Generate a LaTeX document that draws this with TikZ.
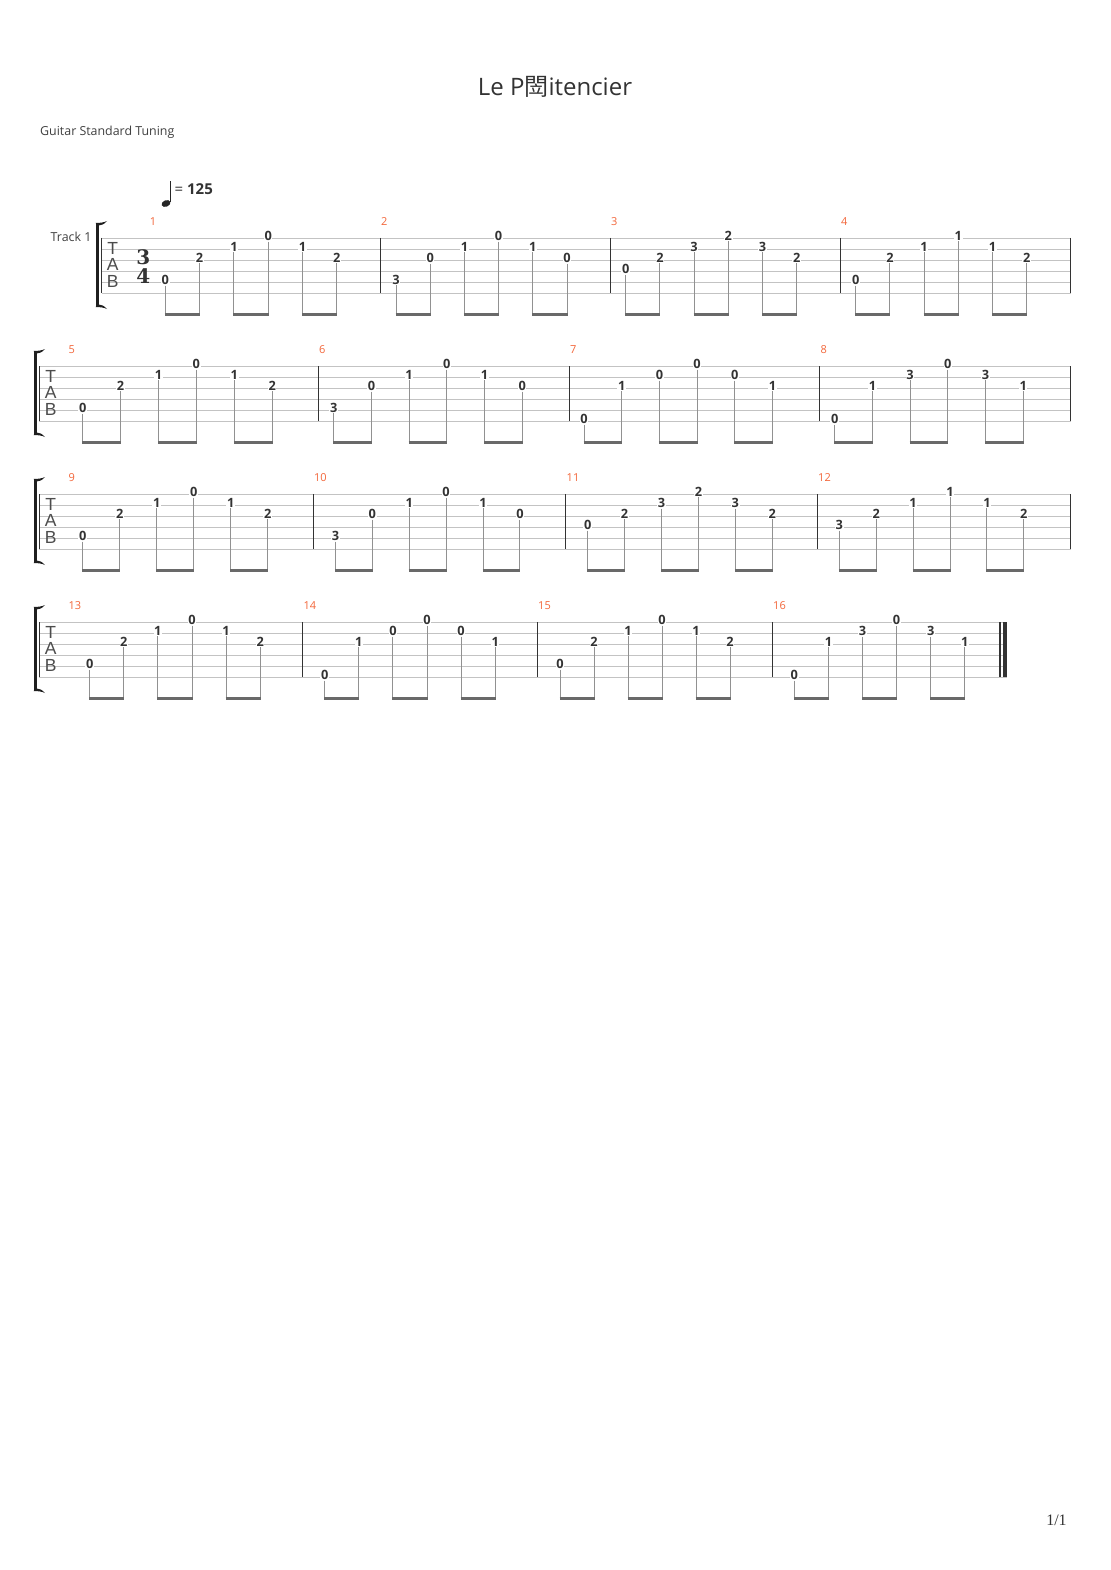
\documentclass[tikz,border=0pt]{standalone}
\usepackage{fontspec}
\setmainfont{Open Sans}
\newfontfamily\cjk{Noto Sans CJK SC}
\newfontfamily\tabfont{Liberation Sans}
\newfontfamily\pagefont{Liberation Serif}
\newfontfamily\sigfont{DejaVu Serif}
\definecolor{barnum}{RGB}{243,102,58}
\definecolor{staffgray}{RGB}{195,195,195}
\definecolor{stemgray}{RGB}{145,145,145}
\definecolor{beamgray}{RGB}{105,105,105}
\definecolor{inkgray}{RGB}{51,51,51}

\tikzset{
  fret/.style={fill=white, inner sep=0.6pt, text=inkgray, font=\bfseries\fontsize{12.8}{12.8}\selectfont},
  staffline/.style={staffgray, line width=0.9pt},
  barline/.style={inkgray, line width=1.2pt},
  stem/.style={stemgray, line width=1pt},
  beam/.style={beamgray, line width=3pt},
  barnumber/.style={text=barnum, inner sep=0pt, font=\fontsize{11}{11}\selectfont},
  tabletter/.style={text=black!70, inner sep=0pt, font=\tabfont\fontsize{17.5}{17.5}\selectfont},
  timesig/.style={text=inkgray, inner sep=0pt, font=\sigfont\bfseries\fontsize{20}{20}\selectfont},
  smalltext/.style={text=black!75, inner sep=0pt, font=\fontsize{12.4}{12.4}\selectfont},
}

% staff: top line y, left x, right x
\newcommand{\tabstaff}[3]{%
  \foreach \k in {0,...,5}
    \draw[staffline] (#2,{#1+11*\k}) -- (#3,{#1+11*\k});
}
% bracket left of a staff: x, top line y
\newcommand{\tabbracket}[2]{%
  \fill[black!88] ({#1-1.5},{#2-15}) rectangle ({#1+1.5},{#2+69});
  \fill[black!88] ({#1-1.5},{#2-15}) .. controls ({#1+3},{#2-15}) and ({#1+7},{#2-15.5}) .. ({#1+10},{#2-17})
    .. controls ({#1+7},{#2-13.5}) and ({#1+4},{#2-12.5}) .. ({#1+1.5},{#2-12.5}) -- cycle;
  \fill[black!88] ({#1-1.5},{#2+69}) .. controls ({#1+3},{#2+69}) and ({#1+7},{#2+69.5}) .. ({#1+10},{#2+71})
    .. controls ({#1+7},{#2+67.5}) and ({#1+4},{#2+66.5}) .. ({#1+1.5},{#2+66.5}) -- cycle;
}
% measure: name, top line y, first note x, note spacing, string/fret pairs
\newcommand{\tabmeasure}[5]{%
  \foreach \snum/\fnum [count=\i] in {#5} {
    \node[fret] (#1n\i) at ({#3+(\i-1)*#4},{#2+(\snum-1)*11-2}) {\fnum};
    \coordinate (#1b\i) at ({#3+(\i-1)*#4},{#2+76.5});
    \draw[stem] (#1n\i.south) -- (#1b\i);
  }
  \draw[beam] ([xshift=-0.5pt]#1b1) -- ([xshift=0.5pt]#1b2);
  \draw[beam] ([xshift=-0.5pt]#1b3) -- ([xshift=0.5pt]#1b4);
  \draw[beam] ([xshift=-0.5pt]#1b5) -- ([xshift=0.5pt]#1b6);
}

\begin{document}
\begin{tikzpicture}[x=1pt, y=-1pt]
\useasboundingbox[fill=white] (0,0) rectangle (1110,1570);

\node[text=inkgray, inner sep=0pt, font=\fontsize{24}{24}\selectfont] (title) at (555,87) {Le P{\cjk 閚}itencier};
\node[smalltext, anchor=west] (tuning) at (40,132.5) {Guitar Standard Tuning};

% tempo
\fill[black!85, rotate around={22:(166,203.5)}] (166,203.5) ellipse [x radius=4.6pt, y radius=3.2pt];
\draw[black!85, line width=1.1pt] (170.2,202.5) -- (170.2,181);
\node[anchor=west, inner sep=0pt, text=inkgray, font=\fontsize{15}{15}\selectfont] (tempo) at (174.5,189) {= \textbf{125}};

\node[smalltext, anchor=west] (track) at (50.5,236.5) {Track 1};

% system 1
\tabstaff{238}{101.7}{1070.7}
\tabbracket{97}{238}
\draw[barline, line width=0.9pt] (101.7,238) -- (101.7,293);
\foreach \bx in {380.7,610.7,840.7,1070.7}
  \draw[barline] (\bx,238) -- (\bx,293);
\node[tabletter] (clefT1) at (112.7,248) {T};
\node[tabletter] (clefA1) at (112.7,264.5) {A};
\node[tabletter] (clefB1) at (112.7,281) {B};
\node[timesig] (sigtop) at (143.3,257.5) {3};
\node[timesig] (sigbot) at (143.3,276.5) {4};
\node[barnumber] (num1) at (153,222) {1};
\node[barnumber, anchor=west] (num2) at (381,222) {2};
\node[barnumber, anchor=west] (num3) at (611,222) {3};
\node[barnumber, anchor=west] (num4) at (841,222) {4};
\tabmeasure{m1}{238}{165.3}{34.3}{5/0,3/2,2/1,1/0,2/1,3/2}
\tabmeasure{m2}{238}{396}{34.2}{5/3,3/0,2/1,1/0,2/1,3/0}
\tabmeasure{m3}{238}{625.7}{34.2}{4/0,3/2,2/3,1/2,2/3,3/2}
\tabmeasure{m4}{238}{855.7}{34.2}{5/0,3/2,2/1,1/1,2/1,3/2}

% system 2
\tabstaff{366}{39}{1070.7}
\tabbracket{35}{366}
\draw[barline, line width=0.9pt] (39,366) -- (39,421);
\foreach \bx in {318.2,569.3,819.7,1070.7}
  \draw[barline] (\bx,366) -- (\bx,421);
\node[tabletter] (clefT2) at (50.7,376) {T};
\node[tabletter] (clefA2) at (50.7,392.5) {A};
\node[tabletter] (clefB2) at (50.7,409) {B};
\node[barnumber, anchor=west] (num5) at (68.5,350) {5};
\node[barnumber, anchor=west] (num6) at (319,350) {6};
\node[barnumber, anchor=west] (num7) at (570,350) {7};
\node[barnumber, anchor=west] (num8) at (820.5,350) {8};
\tabmeasure{m5}{366}{82.7}{37.9}{5/0,3/2,2/1,1/0,2/1,3/2}
\tabmeasure{m6}{366}{333.7}{37.7}{5/3,3/0,2/1,1/0,2/1,3/0}
\tabmeasure{m7}{366}{584}{37.7}{6/0,3/1,2/0,1/0,2/0,3/1}
\tabmeasure{m8}{366}{834.7}{37.7}{6/0,3/1,2/3,1/0,2/3,3/1}

% system 3
\tabstaff{494}{39}{1070.7}
\tabbracket{35}{494}
\draw[barline, line width=0.9pt] (39,494) -- (39,549);
\foreach \bx in {313.4,565.7,817.3,1070.7}
  \draw[barline] (\bx,494) -- (\bx,549);
\node[tabletter] (clefT3) at (50.7,504) {T};
\node[tabletter] (clefA3) at (50.7,520.5) {A};
\node[tabletter] (clefB3) at (50.7,537) {B};
\node[barnumber, anchor=west] (num9) at (68.5,478) {9};
\node[barnumber, anchor=west] (num10) at (314,478) {10};
\node[barnumber, anchor=west] (num11) at (566.5,478) {11};
\node[barnumber, anchor=west] (num12) at (818,478) {12};
\tabmeasure{m9}{494}{82.7}{37}{5/0,3/2,2/1,1/0,2/1,3/2}
\tabmeasure{m10}{494}{335.4}{36.9}{5/3,3/0,2/1,1/0,2/1,3/0}
\tabmeasure{m11}{494}{587.7}{36.9}{4/0,3/2,2/3,1/2,2/3,3/2}
\tabmeasure{m12}{494}{839.3}{36.9}{4/3,3/2,2/1,1/1,2/1,3/2}

% system 4
\tabstaff{622}{39}{1006.7}
\tabbracket{35}{622}
\draw[barline, line width=0.9pt] (39,622) -- (39,677);
\foreach \bx in {302.7,537.3,772.3,1000}
  \draw[barline] (\bx,622) -- (\bx,677);
\fill[inkgray] (1003.3,622) rectangle (1006.7,677);
\node[tabletter] (clefT4) at (50.7,632) {T};
\node[tabletter] (clefA4) at (50.7,648.5) {A};
\node[tabletter] (clefB4) at (50.7,665) {B};
\node[barnumber, anchor=west] (num13) at (68.5,606) {13};
\node[barnumber, anchor=west] (num14) at (303.5,606) {14};
\node[barnumber, anchor=west] (num15) at (538,606) {15};
\node[barnumber, anchor=west] (num16) at (773,606) {16};
\tabmeasure{m13}{622}{89.7}{34.1}{5/0,3/2,2/1,1/0,2/1,3/2}
\tabmeasure{m14}{622}{324.7}{34.1}{6/0,3/1,2/0,1/0,2/0,3/1}
\tabmeasure{m15}{622}{560}{34}{5/0,3/2,2/1,1/0,2/1,3/2}
\tabmeasure{m16}{622}{794.3}{34.1}{6/0,3/1,2/3,1/0,2/3,3/1}

\node[inner sep=0pt, text=black!80, font=\pagefont\fontsize{16}{16}\selectfont] (page) at (1056.5,1520) {1/1};
\end{tikzpicture}
\end{document}
